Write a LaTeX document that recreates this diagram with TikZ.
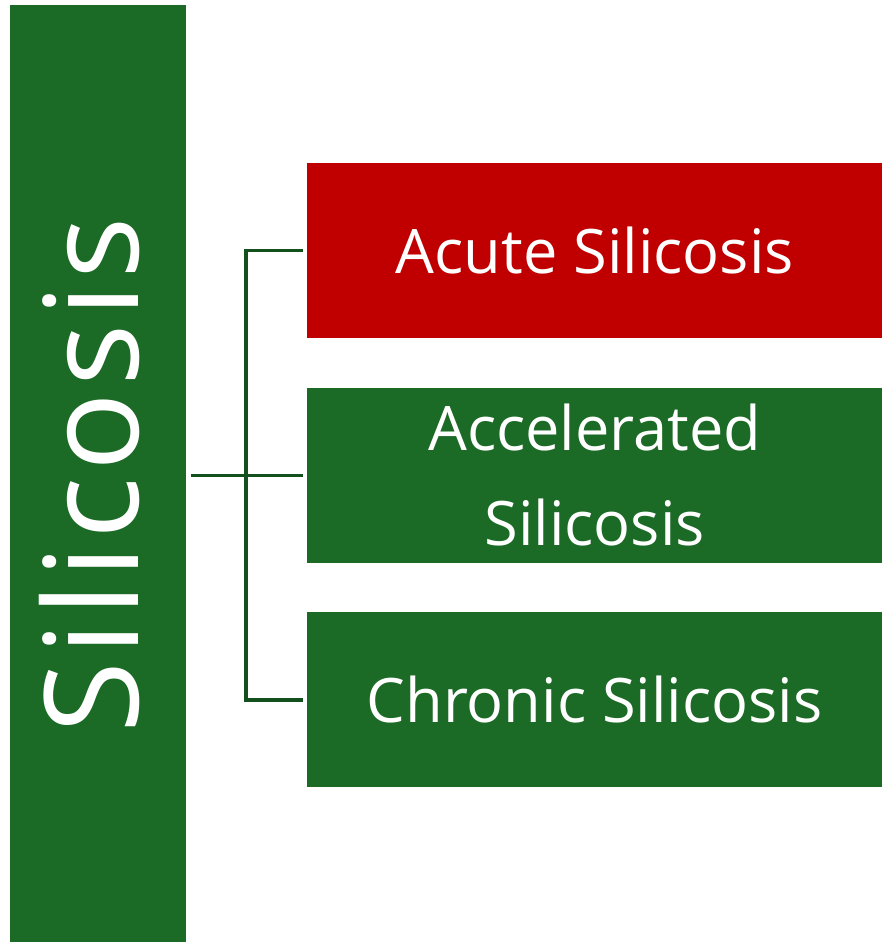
\documentclass[tikz,border=0pt]{standalone}
\usepackage{fontspec}
\setmainfont{Open Sans}
\usepackage{tikz}
\usetikzlibrary{positioning}
\definecolor{silgreen}{HTML}{1B6A25}
\definecolor{silred}{HTML}{C00000}
\definecolor{linkgreen}{HTML}{14501E}
\tikzset{
  mainbar/.style={
    fill=silgreen,
    minimum width=132pt,
    minimum height=702.75pt,
    inner sep=0pt,
    anchor=north west
  },
  kind/.style={
    minimum width=431.25pt,
    minimum height=131.25pt,
    inner sep=0pt,
    align=center,
    text=white,
    font=\fontsize{46}{71}\selectfont
  },
  link/.style={draw=linkgreen, line width=2.5pt}
}
\begin{document}
\begin{tikzpicture}[x=0.75pt, y=-0.75pt, node distance=36.75pt]
    \useasboundingbox (0,0) rectangle (882,942);
    \node (bar) [mainbar] at (10,5) {};
    \node (title) [rotate=90, anchor=base, text=white, inner sep=0pt,
      font=\fontsize{98}{98}\selectfont\addfontfeature{LetterSpace=4.5}]
      at (138,475) {Silicosis};
    \node (acute) [kind, fill=silred, anchor=north west] at (307,163) {Acute Silicosis};
    \node (accel) [kind, fill=silgreen, below=of acute] {Accelerated\\Silicosis};
    \node (chronic) [kind, fill=silgreen, below=of accel] {Chronic Silicosis};
    % tree from the bar to the three kinds
    \coordinate (hub) at (246,475);
    \draw [link] ([xshift=3pt]bar.east |- accel) -- ([xshift=-3pt]accel.west);
    \draw [link] ([xshift=-3pt]acute.west) -| (hub |- acute) -- (hub |- chronic)
      -- ([xshift=-3pt]chronic.west);
\end{tikzpicture}
\end{document}
